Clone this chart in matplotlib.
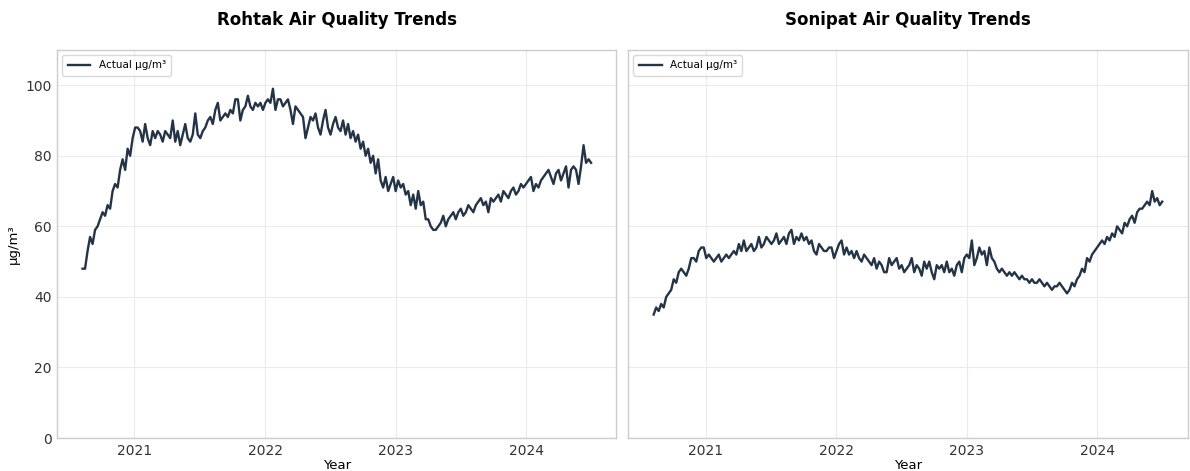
import numpy as np
import pandas as pd
import matplotlib
matplotlib.use('Agg')
import matplotlib.pyplot as plt
import matplotlib.dates as mdates

# weekly mean concentration (ug/m3), first week ending 2020-08-09
rohtak = [48, 48, 53, 57, 55, 59, 60, 62, 64, 63,
          66, 65, 70, 72, 71, 76, 79, 76, 82, 80,
          85, 88, 88, 87, 84, 89, 85, 83, 87, 85,
          87, 86, 84, 87, 86, 85, 90, 84, 87, 83,
          86, 89, 85, 84, 86, 92, 86, 85, 87, 88,
          90, 91, 89, 93, 95, 90, 91, 92, 91, 93,
          92, 96, 96, 90, 93, 94, 97, 94, 93, 95,
          94, 95, 93, 95, 96, 95, 99, 93, 96, 96,
          94, 95, 96, 93, 89, 94, 93, 92, 91, 85,
          88, 91, 90, 92, 88, 86, 90, 93, 88, 86,
          89, 91, 88, 87, 90, 86, 89, 85, 87, 84,
          86, 82, 84, 80, 82, 78, 80, 75, 79, 73,
          71, 74, 70, 72, 74, 70, 73, 71, 72, 69,
          70, 66, 69, 65, 70, 66, 67, 62, 62, 60,
          59, 59, 60, 61, 63, 60, 62, 63, 64, 62,
          64, 65, 63, 64, 66, 65, 64, 66, 67, 68,
          66, 67, 64, 68, 67, 68, 69, 67, 70, 69,
          68, 70, 71, 69, 70, 72, 71, 72, 73, 74,
          70, 72, 71, 73, 74, 75, 76, 74, 72, 75,
          76, 73, 75, 77, 71, 76, 77, 76, 72, 77,
          83, 78, 79, 78]

sonipat = [35, 37, 36, 38, 37, 40, 41, 42, 45, 44,
           47, 48, 47, 46, 48, 51, 51, 50, 53, 54,
           54, 51, 52, 51, 50, 51, 52, 50, 51, 52,
           51, 52, 53, 52, 55, 53, 56, 53, 54, 55,
           53, 54, 57, 54, 55, 57, 56, 55, 56, 58,
           55, 56, 57, 55, 58, 59, 55, 57, 56, 58,
           56, 57, 55, 56, 53, 52, 55, 54, 53, 53,
           54, 54, 51, 53, 55, 56, 52, 54, 52, 53,
           51, 53, 51, 50, 52, 51, 50, 49, 51, 48,
           50, 49, 47, 47, 51, 49, 50, 51, 48, 49,
           47, 48, 49, 51, 47, 49, 48, 46, 50, 48,
           50, 47, 45, 49, 48, 49, 47, 50, 47, 48,
           46, 49, 50, 47, 51, 52, 51, 56, 49, 51,
           54, 52, 53, 49, 54, 51, 50, 48, 47, 48,
           47, 46, 47, 46, 47, 46, 45, 46, 45, 45,
           44, 45, 44, 44, 45, 44, 43, 44, 43, 42,
           43, 43, 44, 43, 42, 41, 42, 44, 43, 45,
           46, 48, 47, 51, 50, 52, 53, 54, 55, 56,
           55, 57, 56, 58, 57, 60, 59, 58, 61, 60,
           62, 63, 61, 64, 65, 65, 66, 67, 66, 70,
           67, 68, 66, 67]

cities = ['Rohtak', 'Sonipat']
series = [rohtak, sonipat]
dates = pd.date_range('2020-08-09', periods=len(rohtak), freq='W')

line_col = '#243447'

fig, axes = plt.subplots(1, 2, figsize=(11.9, 4.71), dpi=100, sharey=True)
fig.subplots_adjust(left=0.048, right=0.998, top=0.894, bottom=0.070, wspace=0.021)

for ax, city, vals in zip(axes, cities, series):
    ax.plot(dates, vals, color=line_col, lw=1.7, label='Actual μg/m³')
    ax.set_title(city + ' Air Quality Trends', fontsize=12, fontweight='bold', pad=18)
    ax.set_xlabel('Year', fontsize=9.5, labelpad=1)
    ax.xaxis.set_major_locator(mdates.YearLocator())
    ax.xaxis.set_major_formatter(mdates.DateFormatter('%Y'))
    ax.set_ylim(0, 110)
    ax.set_yticks([0, 20, 40, 60, 80, 100])
    ax.grid(True, color='#ebebeb', lw=0.8)
    ax.set_axisbelow(True)
    for s in ax.spines.values():
        s.set_color('#cccccc')
        s.set_linewidth(1.0)
    ax.tick_params(axis='both', length=0, labelsize=10, colors='#333333', pad=4)
    ax.legend(loc='upper left', fontsize=7.5, frameon=True, edgecolor='#d0d0d0',
              fancybox=True, handlelength=2.2, borderpad=0.5)

axes[0].set_ylabel('μg/m³', fontsize=9.5)
axes[1].tick_params(axis='y', labelleft=False)

fig.savefig('out.png', dpi=100)
